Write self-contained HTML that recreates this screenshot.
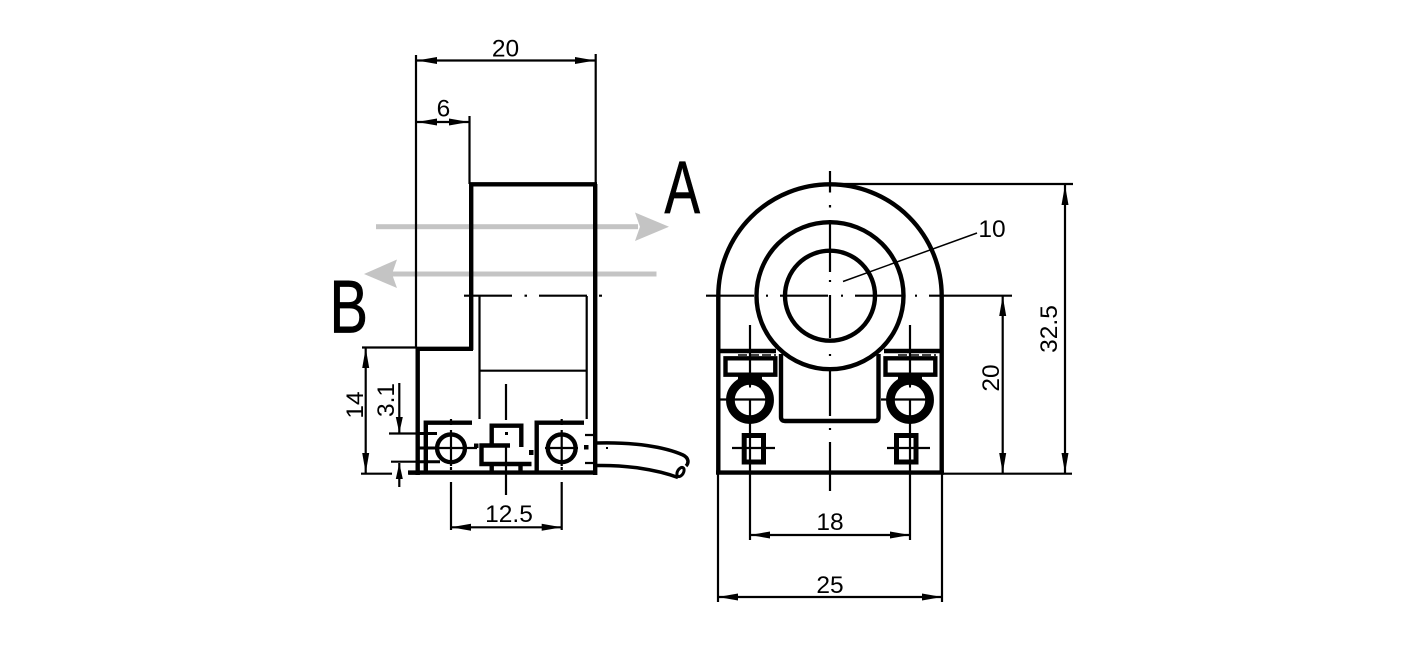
<!DOCTYPE html>
<html>
<head>
<meta charset="utf-8">
<style>
html,body{margin:0;padding:0;background:#fff;width:1417px;height:650px;overflow:hidden}
svg{display:block}
text{font-family:"Liberation Sans",sans-serif;fill:#000}
</style>
</head>
<body>
<svg width="1417" height="650" viewBox="0 0 1417 650" xmlns="http://www.w3.org/2000/svg">
<defs>
<marker id="a" markerUnits="userSpaceOnUse" markerWidth="20" markerHeight="8" refX="20" refY="4" orient="auto-start-reverse"><path d="M0 0.500L20 4L0 7.500Z" fill="#000"/></marker>
<marker id="s" markerUnits="userSpaceOnUse" markerWidth="16" markerHeight="8" refX="16" refY="4" orient="auto-start-reverse"><path d="M0 0.500L16 4L0 7.500Z" fill="#000"/></marker>
</defs>

<!-- grey arrows -->
<g fill="#c4c4c4">
<rect x="376" y="224.200" width="262" height="5"/>
<path d="M669 226.700L635 212.500L640 226.700L635 241Z"/>
<rect x="392" y="271.500" width="264.500" height="5"/>
<path d="M364 274L397 259.500L392 274L397 288Z"/>
</g>

<!-- thin lines left view -->
<g fill="none" stroke="#000" stroke-width="2.200">
<path d="M416 55V348M595.700 54V184M469.500 116V184"/>
<path d="M417 60.500H595" marker-start="url(#a)" marker-end="url(#a)"/>
<path d="M417 122H469" marker-start="url(#a)" marker-end="url(#a)"/>
<path d="M464 295.700H512M524.500 295.700H527M539 295.700H587M599 295.700H602"/>
<path d="M479.500 296V419M586.700 296V419M480 370.700H587"/>
<path d="M362 347.500H416M361 473.700H392M409 473.700H416"/>
<path d="M365.700 348V473" marker-start="url(#a)" marker-end="url(#a)"/>
<path d="M399.300 383V433" marker-end="url(#s)"/>
<path d="M399.300 487V463" marker-end="url(#s)"/>
<path d="M389 433.500H418M391 461.700H418"/>
<path d="M506 384V420M506 445V495M451 419V425M451 430V466M451 467V470M561.700 419V425M561.700 430V466M561.700 467V470"/>
<path d="M545 448H578M432 448H477"/>
<path d="M451 482V530M561.700 482V530"/>
<path d="M451 527.300H561.700" marker-start="url(#a)" marker-end="url(#a)"/>
<path d="M585 435H595M585 463H595"/>
</g>

<!-- thick lines left view -->
<g fill="none" stroke="#000" stroke-width="4.400">
<path d="M469.500 184.300H597M471.200 184V350M416 348.800H473M595.200 184V475M417.700 348V475M408 472.600H597"/>
<path d="M472 422.700H425.800V473"/>
<path d="M584 422.700H536.700V473"/>
<path d="M491.700 445V425.700H521.300V447"/>
<path d="M510 445.500H481.500V464H531.500M491.700 464V473M520.500 464V473"/>
</g>
<path d="M418 433.500H437M418 448H436M418 461.700H440" fill="none" stroke="#000" stroke-width="3"/>
<g fill="#000">
<rect x="474" y="443.500" width="4.500" height="4.500"/>
<rect x="529" y="450" width="4.500" height="5"/>
<rect x="584" y="445" width="4.500" height="4.500"/>
<rect x="606" y="447" width="2" height="2"/>
<rect x="505" y="432" width="3" height="3"/>
</g>
<g fill="none" stroke="#000">
<circle cx="451" cy="448.300" r="13.900" stroke-width="4.400"/>
<circle cx="561.700" cy="448.300" r="13.900" stroke-width="4.400"/>
<path stroke-width="3.500" d="M597 443C635 442 665 447 683 455C689 458 689 463 686 466"/>
<path stroke-width="3.500" d="M597 465.500C625 465 655 469 678 477.500"/>
<ellipse cx="680.500" cy="472" rx="3" ry="5" transform="rotate(30 680.500 472)" stroke-width="3"/>
</g>

<!-- right view thin -->
<g fill="none" stroke="#000" stroke-width="2.200">
<path d="M830 171V192.500M830 205V207.500M830 220V272M830 280V282M830 295V338M830 354V356M830 370V416M830 428V430M830 442V491"/>
<path d="M706 295.700H754M766 295.700H768M780 295.700H828M841 295.700H843M855 295.700H902M915 295.700H917M929 295.700H1012"/>
<path d="M843 281.500L977 233" stroke-width="1.500"/>
<path d="M830 184H1073M942 473.700H1072"/>
<path d="M1065 185V473" marker-start="url(#a)" marker-end="url(#a)"/>
<path d="M1002.700 296V473" marker-start="url(#a)" marker-end="url(#a)"/>
<path d="M718 470V602M942 470V602"/>
<path d="M750 535H910" marker-start="url(#a)" marker-end="url(#a)"/>
<path d="M718 597H942" marker-start="url(#a)" marker-end="url(#a)"/>
<path d="M732 448H775M887 448H930"/>
</g>

<!-- right view thick -->
<g fill="none" stroke="#000" stroke-width="4.400">
<path d="M718.300 296A111.700 111.700 0 0 1 941.700 296V473M718.300 296V473"/>
<path d="M716 472.600H944"/>
<circle cx="830" cy="295.700" r="73.500"/>
<circle cx="830" cy="295.700" r="45"/>
<path d="M718 351H776M884 351H942"/>
<path d="M725.500 358.300H775.300V374.700H725.500ZM885.500 358.300H935.300V374.700H885.500Z"/>
<path d="M781 354V417Q781 421 785 421H875Q878.500 421 878.500 417V354"/>
</g>
<g fill="none" stroke="#000" stroke-width="5">
<rect x="744.200" y="435.500" width="19.300" height="26.500"/>
<rect x="896.500" y="435.500" width="19.500" height="26.500"/>
</g>
<g fill="none" stroke="#000" stroke-width="1.500" stroke-dasharray="9 3">
<path d="M738 355H776M898 355H936"/>
</g>
<g fill="none" stroke="#000" stroke-width="8.700">
<circle cx="750" cy="400" r="19.600"/>
<circle cx="910" cy="400" r="19.600"/>
</g>
<path d="M738 376H762V384H738ZM898 376H922V384H898Z" fill="#000"/>
<g fill="none" stroke="#000" stroke-width="2.200">
<path d="M750 325V386M750 400V540M910 325V386M910 400V540"/>
<path d="M720 399.500H766M881 399.500H926"/>
<path d="M749 386H751M909 386H911" stroke-width="3"/>
</g>

<!-- labels -->
<g font-size="24.500" text-anchor="middle">
<text x="505.500" y="56.500">20</text>
<text x="443.500" y="116.500">6</text>
<text x="509" y="522">12.5</text>
<text x="992" y="237">10</text>
<text x="830" y="530">18</text>
<text x="830" y="593">25</text>
<text transform="translate(362.800 405) rotate(-90)">14</text>
<text transform="translate(394 400) rotate(-90)">3.1</text>
<text transform="translate(999 378) rotate(-90)">20</text>
<text transform="translate(1057 329) rotate(-90)">32.5</text>
</g>
<text transform="translate(664.500 213) scale(.72 1)" font-size="74" stroke="#000" stroke-width=".7">A</text>
<text transform="translate(329.500 332.500) scale(.77 1)" font-size="75" stroke="#000" stroke-width=".7">B</text>
</svg>
</body>
</html>
